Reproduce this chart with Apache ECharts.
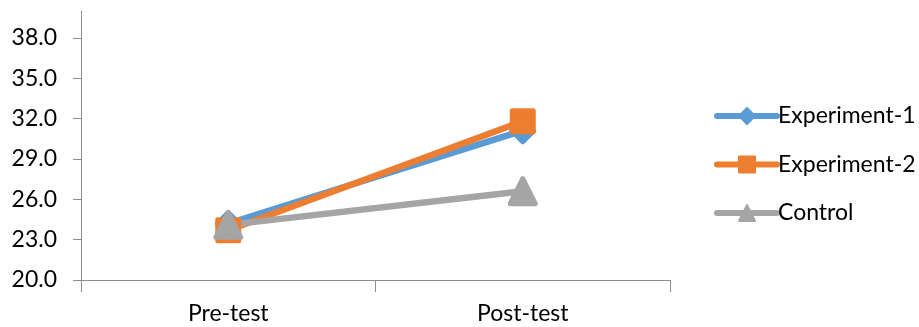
<!DOCTYPE html>
<html>
<head>
<meta charset="utf-8">
<script src="https://cdn.jsdelivr.net/npm/echarts@6/dist/echarts.min.js"></script>
<style>
  html, body { margin: 0; padding: 0; background: #fff; }
  #chart { width: 919px; height: 327px; }
</style>
</head>
<body>
<div id="chart"></div>
<script>
// Test phases on the category axis
const phases = ['Pre-test', 'Post-test'];
// Mean scores per group
const experiment1 = [24.2, 31.1];
const experiment2 = [23.7, 31.8];
const control = [24.1, 26.6];
// Value-axis tick labels
const yTicks = [20, 23, 26, 29, 32, 35, 38];

const FONT = 'Lato';
const AXIS_GREY = '#8c8c8c';

function lineSeries(name, data, color, symbol, size) {
  return {
    name: name,
    type: 'line',
    data: data,
    symbol: symbol,
    symbolSize: size,
    lineStyle: { width: 6.5, color: color, cap: 'round' },
    itemStyle: { color: color, borderColor: color, borderWidth: 5, borderJoin: 'round' },
    emphasis: { disabled: true },
    animation: false
  };
}

const chart = echarts.init(document.getElementById('chart'), null, { renderer: 'canvas' });
chart.setOption({
  backgroundColor: '#ffffff',
  animation: false,
  grid: { left: 81, right: 249, top: 11, bottom: 47, containLabel: false },
  legend: {
    orient: 'vertical',
    left: 709,
    top: 99,
    itemWidth: 60,
    itemHeight: 20,
    itemGap: 24.5,
    lineStyle: { width: 6, cap: 'round' },
    textStyle: { fontFamily: FONT, fontSize: 23, color: '#000', lineHeight: 24, padding: [0, 0, 0, -4] },
    data: ['Experiment-1', 'Experiment-2', 'Control']
  },
  xAxis: {
    type: 'category',
    data: phases,
    boundaryGap: true,
    axisLine: { lineStyle: { color: AXIS_GREY, width: 1 } },
    axisTick: { show: true, length: 12, lineStyle: { color: AXIS_GREY } },
    axisLabel: { fontFamily: FONT, fontSize: 23, color: '#000', margin: 22 },
    splitLine: { show: false }
  },
  yAxis: {
    type: 'value',
    min: 20,
    max: 40,
    interval: 3,
    axisLine: { show: true, lineStyle: { color: AXIS_GREY, width: 1 } },
    axisTick: { show: true, length: 8, inside: false, customValues: yTicks, lineStyle: { color: AXIS_GREY } },
    axisLabel: {
      fontFamily: FONT, fontSize: 23, color: '#000', margin: 24,
      customValues: yTicks,
      formatter: v => v.toFixed(1)
    },
    splitLine: { show: false }
  },
  series: [
    lineSeries('Experiment-1', experiment1, '#5B9BD5', 'diamond', 22),
    lineSeries('Experiment-2', experiment2, '#ED7D31', 'rect', 21),
    lineSeries('Control', control, '#A5A5A5', 'triangle', 25)
  ]
});
</script>
</body>
</html>
